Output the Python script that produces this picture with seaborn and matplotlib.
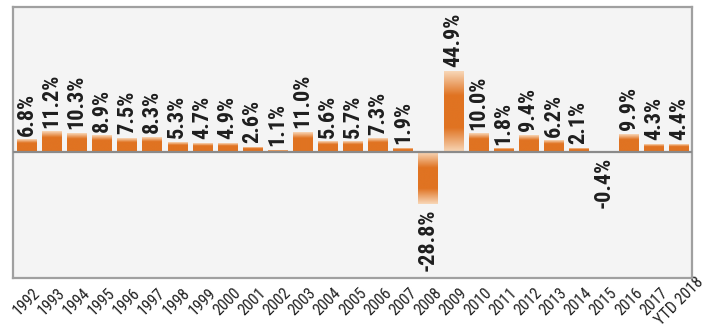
import matplotlib.pyplot as plt
import matplotlib.colors as mcolors
import numpy as np
import pandas as pd
import seaborn as sns

years = [str(y) for y in range(1992, 2018)] + ["YTD 2018"]
returns = [6.8, 11.2, 10.3, 8.9, 7.5, 8.3, 5.3, 4.7, 4.9, 2.6, 1.1, 11.0,
           5.6, 5.7, 7.3, 1.9, -28.8, 44.9, 10.0, 1.8, 9.4, 6.2, 2.1, -0.4,
           9.9, 4.3, 4.4]

df = pd.DataFrame({"year": years, "ret": returns})

DARK = np.array(mcolors.to_rgb("#e07322"))
LIGHT = np.array(mcolors.to_rgb("#f8d7b8"))
COND = ["Roboto Condensed", "DejaVu Sans"]

sns.set_style("white")
fig = plt.figure(figsize=(7.05, 3.35), dpi=100)
ax = fig.add_axes([0.0184, 0.170, 0.9632, 0.809])
ax.set_facecolor("#f4f4f4")

sns.barplot(data=df, x="year", y="ret", color="#e07322", width=0.76,
            saturation=1, ax=ax, zorder=2)


def bar_gradient(h, n=200):
    # light at the outer end, dark in the body; big bars fade at both ends
    t = np.linspace(0, 1, n)
    outer = np.clip((1 - t) / 0.3, 0, 1)
    inner = np.clip(t / 0.3, 0, 1) if abs(h) > 20 else np.ones(n)
    f = np.minimum(outer, inner)
    return LIGHT[None, :] + (DARK - LIGHT)[None, :] * f[:, None]


for patch, v in zip(ax.patches, returns):
    x0 = patch.get_x()
    w = patch.get_width()
    y0 = patch.get_y()
    h = patch.get_height()
    grad = bar_gradient(h)
    if h >= 0:
        img = grad[::-1][:, None, :]
        extent = (x0, x0 + w, y0, y0 + h)
    else:
        img = grad[:, None, :]
        extent = (x0, x0 + w, y0 + h, y0)
    ax.imshow(img, extent=extent, aspect="auto", zorder=3,
              interpolation="bilinear")
    patch.set_alpha(0)

for i, v in enumerate(returns):
    off = 3 if v >= 0 else -3
    ax.annotate(f"{v:.1f}%", xy=(i, v),
                xytext=(0, off), textcoords="offset points",
                rotation=90, ha="center",
                va="bottom" if v >= 0 else "top",
                fontsize=16, fontweight="bold", color="#1e1e1e",
                family=COND, zorder=4)

ax.axhline(0, color="#8a8a8a", lw=1.6, zorder=4)

ax.set_xlim(-0.54, 26.52)
ax.set_ylim(-70, 80.5)
ax.set_yticks([])
ax.set_xlabel("")
ax.set_ylabel("")
ax.tick_params(axis="x", length=0, pad=17)
for lbl in ax.get_xticklabels():
    lbl.set_rotation(45)
    lbl.set_ha("center")
    lbl.set_va("center")
    lbl.set_family(COND)
    lbl.set_fontsize(11.5)
    lbl.set_color("#222222")

for s in ax.spines.values():
    s.set_visible(True)
    s.set_color("#a0a0a0")
    s.set_linewidth(1.6)

fig.savefig("out.png", dpi=100)
